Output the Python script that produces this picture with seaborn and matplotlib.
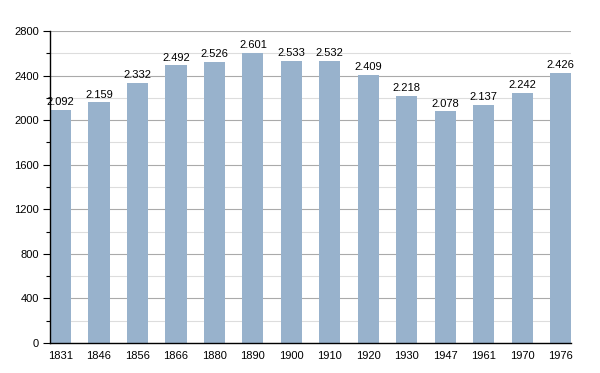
import matplotlib.pyplot as plt
import seaborn as sns
import pandas as pd
from matplotlib.ticker import MultipleLocator

# Data
years = ["1831", "1846", "1856", "1866", "1880", "1890", "1900",
         "1910", "1920", "1930", "1947", "1961", "1970", "1976"]
population = [2092, 2159, 2332, 2492, 2526, 2601, 2533,
              2532, 2409, 2218, 2078, 2137, 2242, 2426]

df = pd.DataFrame({"year": years, "pop": population})

sns.set_style("white")
plt.rcParams['font.family'] = ['Liberation Sans', 'DejaVu Sans']
plt.rcParams['text.color'] = 'black'
plt.rcParams['xtick.color'] = 'black'
plt.rcParams['ytick.color'] = 'black'

fig = plt.figure(figsize=(6, 3.73), dpi=100)
ax = fig.add_axes([0.0833, 0.0804, 0.8687, 0.8365])
ax.set_axisbelow(True)

bw = 0.55
sns.barplot(data=df, x="year", y="pop", color="#98b2cc", saturation=1,
            width=bw, ax=ax, linewidth=0, edgecolor="none")

ax.set_xlim(-bw / 2, len(years) - 1 + bw / 2)
ax.set_ylim(0, 2800)
ax.yaxis.set_major_locator(MultipleLocator(400))
ax.yaxis.set_minor_locator(MultipleLocator(200))
ax.grid(axis="y", which="major", color="#aaaaaa", linewidth=0.8)
ax.grid(axis="y", which="minor", color="#dddddd", linewidth=0.8)

for s in ["top", "right"]:
    ax.spines[s].set_visible(False)
for s in ["left", "bottom"]:
    ax.spines[s].set_color("black")
    ax.spines[s].set_linewidth(1.0)
    ax.spines[s].set_zorder(5)

ax.tick_params(axis="y", which="major", left=True, length=5, width=0.8,
               labelsize=8, pad=3, colors="black")
ax.tick_params(axis="y", which="minor", left=True, length=3, width=0.8,
               colors="black")
ax.tick_params(axis="x", bottom=False, labelsize=8, pad=2, colors="black")
ax.set_xlabel("")
ax.set_ylabel("")

# value labels with dot as thousands separator
for i, v in enumerate(population):
    ax.text(i, v + 25, f"{v:,}".replace(",", "."), ha="center", va="bottom",
            fontsize=8, color="black", zorder=4)

fig.savefig("out.png", dpi=100)
